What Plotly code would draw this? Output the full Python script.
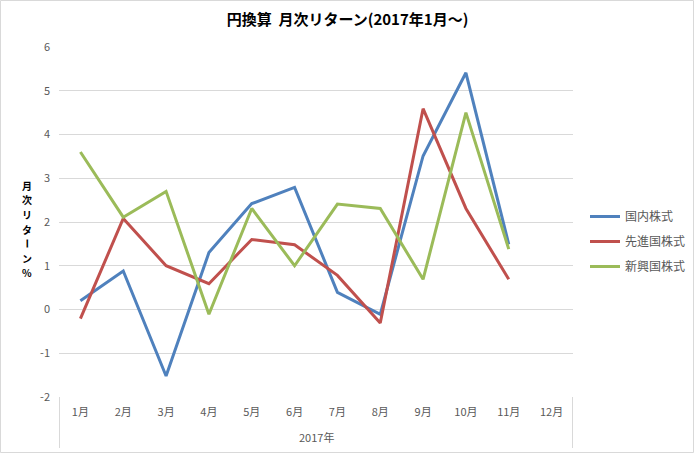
import plotly.graph_objects as go

year_label = "2017年"
months = ["1月", "2月", "3月", "4月", "5月", "6月", "7月", "8月", "9月", "10月", "11月", "12月"]
domestic = [0.2, 0.88, -1.52, 1.3, 2.42, 2.79, 0.39, -0.11, 3.51, 5.41, 1.49, None]
developed = [-0.21, 2.08, 1.0, 0.59, 1.6, 1.48, 0.78, -0.31, 4.59, 2.31, 0.69, None]
emerging = [3.6, 2.11, 2.7, -0.11, 2.31, 1.0, 2.41, 2.31, 0.69, 4.5, 1.38, None]
series_names = ["国内株式", "先進国株式", "新興国株式"]
colors = ["#4F81BD", "#C0504D", "#9BBB59"]
yticks = [-2, -1, 0, 1, 2, 3, 4, 5, 6]
ytick_text = ["-2", "-1", "0", "1", "2", "3", "4", "5", "6"]
ytitle_chars = ["月", "次", "リ", "タ", "ー", "ン", "%"]

FONT = "Noto Sans CJK JP"

fig = go.Figure()
for name, vals, c in zip(series_names, [domestic, developed, emerging], colors):
    fig.add_trace(go.Scatter(
        x=months, y=vals, name=name, mode="lines",
        line=dict(color=c, width=3), legendgroup=name,
    ))

L, R, T, B = 59, 122, 47, 57
W, H = 695, 454
pw, ph = W - L - R, H - T - B

def px_x(p):
    return (p - L) / pw

def px_y(p):
    return (H - B - p) / ph

fig.update_layout(
    width=W, height=H,
    margin=dict(l=L, r=R, t=T, b=B, autoexpand=False),
    paper_bgcolor="white", plot_bgcolor="white",
    font=dict(family=FONT, color="#595959", size=11),
    title=dict(text="<b>円換算  月次リターン(2017年1月～)</b>",
               font=dict(family=FONT, size=15, color="#000000"),
               x=0.5, xanchor="center", y=1 - 20 / H, yanchor="middle"),
    showlegend=True,
    legend=dict(x=px_x(585), y=px_y(241.5), xanchor="left", yanchor="middle",
                font=dict(family=FONT, size=12, color="#595959"),
                traceorder="grouped", tracegroupgap=6,
                bgcolor="rgba(0,0,0,0)", borderwidth=0),
    xaxis=dict(type="category", range=[-0.5, len(months) - 0.5],
               showgrid=False, zeroline=False, showline=False, ticks="",
               ticklabelstandoff=7,
               tickfont=dict(family=FONT, size=11, color="#595959")),
    yaxis=dict(range=[-2, 6], tickvals=yticks, ticktext=ytick_text, showgrid=True,
               gridcolor="#d9d9d9", gridwidth=1, zeroline=False,
               showline=False, ticks="", ticklabelstandoff=8,
               tickfont=dict(family=FONT, size=11, color="#595959")),
)

# group label under the month labels
fig.add_annotation(text=year_label, xref="paper", yref="paper",
                   x=0.5, y=px_y(437), xanchor="center", yanchor="middle",
                   showarrow=False, font=dict(family=FONT, size=11, color="#595959"))

# group dividers
for p in (59.5, 572.5):
    fig.add_shape(type="line", xref="paper", yref="paper",
                  x0=px_x(p), x1=px_x(p), y0=px_y(397), y1=px_y(448),
                  line=dict(color="#d9d9d9", width=1))

# vertical stacked y-axis title, one character per annotation
step = 14.6
y0 = 229 - step * (len(ytitle_chars) - 1) / 2
for i, ch in enumerate(ytitle_chars):
    fig.add_annotation(
        text="<b>%s</b>" % ch, xref="paper", yref="paper",
        x=px_x(27), y=px_y(y0 + i * step), xanchor="center", yanchor="middle",
        showarrow=False, borderpad=0, textangle=90 if ch == "ー" else 0,
        font=dict(family=FONT, size=10, color="#000000"),
    )

# chart border
fig.add_shape(type="rect", xref="paper", yref="paper",
              x0=px_x(0.5), x1=px_x(693.5), y0=px_y(452.5), y1=px_y(0.5),
              line=dict(color="#d9d9d9", width=1), layer="below")

fig.write_html("out.html")
